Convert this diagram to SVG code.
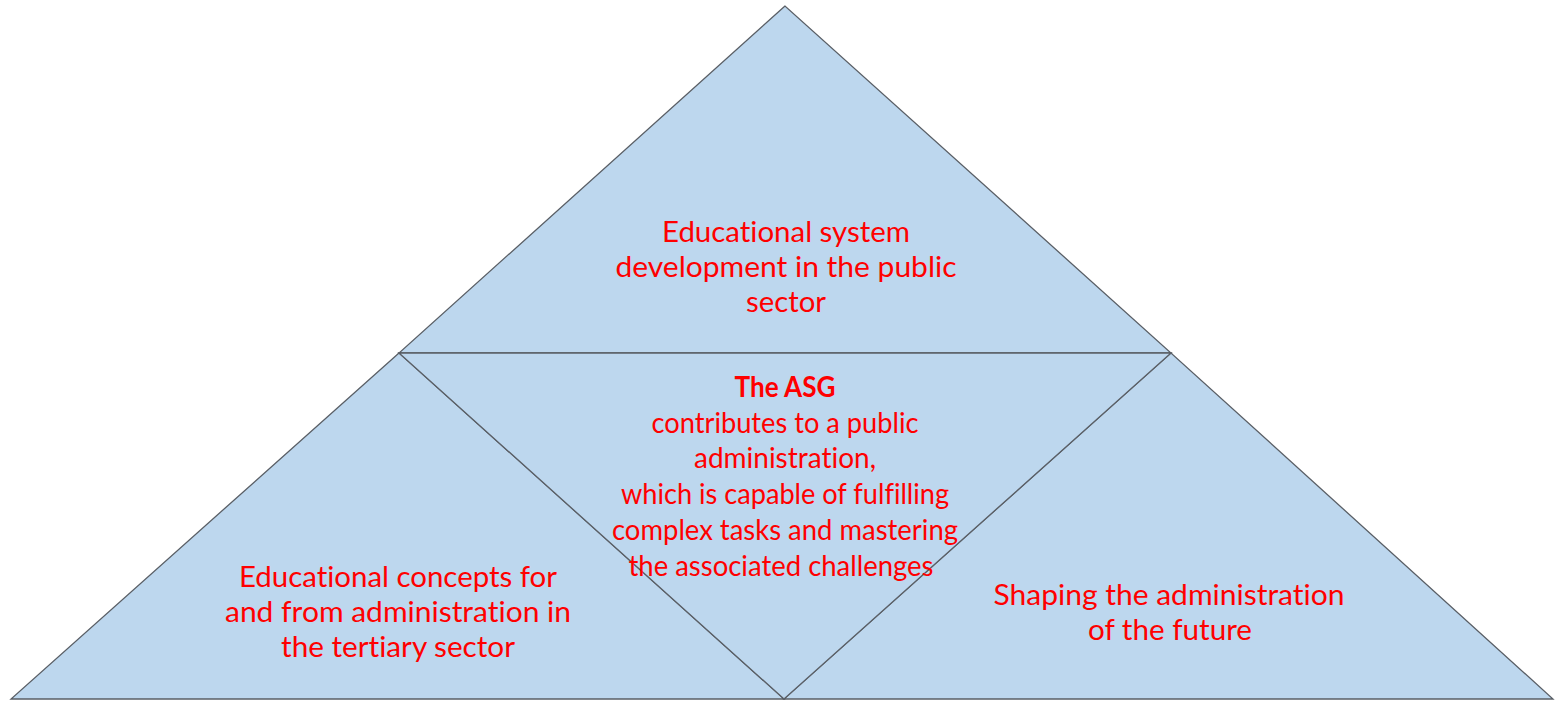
<svg xmlns="http://www.w3.org/2000/svg" width="1555" height="702" viewBox="0 0 1555 702">
<style>
.tri{fill:#BDD7EE;stroke:#5A5F66;stroke-width:1.3;stroke-linejoin:miter}
.t{font-family:Lato,"Liberation Sans",Arial,sans-serif;font-size:28px;fill:#FF0000;text-anchor:middle;font-variant-ligatures:none;font-feature-settings:"liga" 0,"clig" 0}
.b{font-weight:bold}
</style>
<rect width="1555" height="702" fill="#FFFFFF"/>
<g id="top">
<polygon class="tri" points="785,6 399,353 1171,353"/>
</g>
<g id="left">
<polygon class="tri" points="399,353 11,699 784,699"/>
</g>
<g id="right">
<polygon class="tri" points="1171,353 784,699 1553,699"/>
</g>
<g id="center">
<polygon class="tri" points="399,353 1171,353 784,699"/>
</g>
<g id="labels">
<text class="t" x="786" y="242" textLength="248" lengthAdjust="spacingAndGlyphs">Educational system</text>
<text class="t" x="786" y="277" textLength="341" lengthAdjust="spacingAndGlyphs">development in the public</text>
<text class="t" x="786" y="312" textLength="80" lengthAdjust="spacingAndGlyphs">sector</text>
<text class="t b" x="785" y="397" textLength="101" lengthAdjust="spacingAndGlyphs">The ASG</text>
<text class="t" x="785" y="433" textLength="267" lengthAdjust="spacingAndGlyphs">contributes to a public</text>
<text class="t" x="785" y="468" textLength="182" lengthAdjust="spacingAndGlyphs">administration,</text>
<text class="t" x="785" y="504" textLength="328" lengthAdjust="spacingAndGlyphs">which is capable of fulfilling</text>
<text class="t" x="785" y="540" textLength="346" lengthAdjust="spacingAndGlyphs">complex tasks and mastering</text>
<text class="t" x="781" y="576" textLength="305" lengthAdjust="spacingAndGlyphs">the associated challenges</text>
<text class="t" x="398" y="587" textLength="318" lengthAdjust="spacingAndGlyphs">Educational concepts for</text>
<text class="t" x="398" y="622" textLength="346" lengthAdjust="spacingAndGlyphs">and from administration in</text>
<text class="t" x="398" y="657" textLength="234" lengthAdjust="spacingAndGlyphs">the tertiary sector</text>
<text class="t" x="1169" y="605" textLength="351" lengthAdjust="spacingAndGlyphs">Shaping the administration</text>
<text class="t" x="1170" y="640" textLength="164" lengthAdjust="spacingAndGlyphs">of the future</text>
</g>
</svg>
